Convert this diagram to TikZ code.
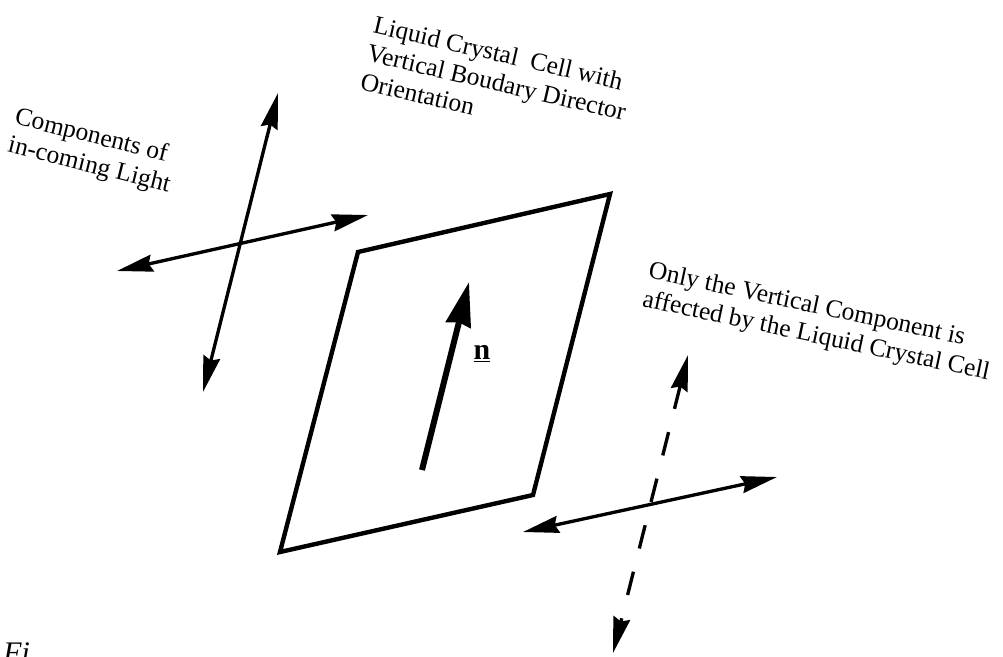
\documentclass[tikz,border=0pt]{standalone}
\usepackage{fontspec}
\setmainfont{Liberation Serif}
\usetikzlibrary{arrows.meta}

\begin{document}
\begin{tikzpicture}[
  x=0.02cm, y=-0.02cm,
  cellbox/.style={line width=2.5pt, line join=miter},
  lightarrow/.style={line width=1.9pt, {Stealth[length=0.72cm,width=0.34cm,inset=0.07cm]}-{Stealth[length=0.72cm,width=0.34cm,inset=0.07cm]}},
  dasharrow/.style={lightarrow, dash pattern=on 0.48cm off 0.48cm},
  director/.style={line width=3.4pt, -{Stealth[length=0.88cm,width=0.5cm,inset=0.05cm]}},
  label/.style={inner sep=0pt, align=left, font=\fontsize{14.5}{16.5}\selectfont}
]
\useasboundingbox (0,0) rectangle (1003,656);
\clip (0,0) rectangle (1003,656);

% Incoming light components
\coordinate (inTop) at (278,93);
\coordinate (inBot) at (203,392);
\coordinate (inLeft) at (117,271);
\coordinate (inRight) at (368,215);

% Liquid crystal cell
\coordinate (c1) at (358,252);
\coordinate (c2) at (610,194);
\coordinate (c3) at (533,495);
\coordinate (c4) at (280,552);
\coordinate (nTail) at (422,470);
\coordinate (nHead) at (469,282);

% Outgoing light components
\coordinate (outTop) at (688,355);
\coordinate (outBot) at (613,653);
\coordinate (outLeft) at (523,532);
\coordinate (outRight) at (777,477);

% Labels
\node[label, anchor=north west, rotate=-14] (incoming) at (18,106) {Components of\\in-coming Light};
\node[label, anchor=north west, rotate=-13] (celltext) at (376,15) {Liquid Crystal\ \ Cell with\\Vertical Boudary Director\\Orientation};
\node[label, anchor=north west, rotate=-12] (outgoing) at (651,260) {Only the Vertical Component is\\affected by the Liquid Crystal Cell};
\node[inner sep=0pt, font=\fontsize{17}{17}\selectfont] (nlabel) at (482,354) {\underline{\textbf{n}}};
\node[inner sep=0pt, anchor=north west, font=\fontsize{17}{17}\selectfont\itshape] (fig) at (3,642) {Fi};

% Drawing
\draw[cellbox] (c1) -- (c2) -- (c3) -- (c4) -- cycle;
\draw[director] (nTail) -- (nHead);
\draw[lightarrow] (inBot) -- (inTop);
\draw[lightarrow] (inLeft) -- (inRight);
\draw[dasharrow] (outTop) -- (outBot);
\draw[lightarrow] (outLeft) -- (outRight);

\end{tikzpicture}
\end{document}
